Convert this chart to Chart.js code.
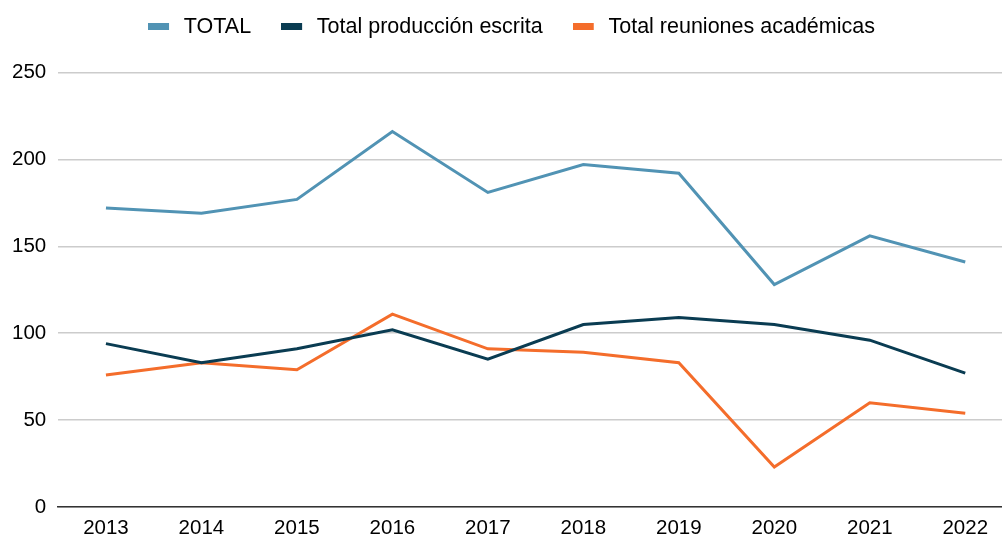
<!DOCTYPE html>
<html lang="es">
<head>
  <meta charset="utf-8">
  <title>Producción académica</title>
  <script src="https://cdn.jsdelivr.net/npm/chart.js@4.4.1/dist/chart.umd.min.js"></script>
  <style>
    html, body { margin: 0; padding: 0; background: #fff; overflow: hidden; }
    #wrap { width: 1013px; height: 540px; }
  </style>
</head>
<body>
  <div id="wrap">
    <canvas id="chart-line"></canvas>
  </div>
  <script>
    // datos
    var years = ['2013', '2014', '2015', '2016', '2017', '2018', '2019', '2020', '2021', '2022'];
    var total = [172, 169, 177, 216, 181, 197, 192, 128, 156, 141];
    var produccionEscrita = [94, 83, 91, 102, 85, 105, 109, 105, 96, 77];
    var reunionesAcademicas = [76, 83, 79, 111, 91, 89, 83, 23, 60, 54];
    var yTicks = [0, 50, 100, 150, 200, 250];

    var colors = ['#5193b4', '#0a3c52', '#f46d2b'];
    var fontFamily = '"Liberation Sans", Arial, sans-serif';

    // icono de leyenda: rectángulo 21x7 con hueco a la derecha
    function legendIcon(color) {
      var c = document.createElement('canvas');
      c.width = 25;
      c.height = 7;
      var ctx = c.getContext('2d');
      ctx.fillStyle = color;
      ctx.fillRect(0, 0, 21, 7);
      return c;
    }

    // sube la leyenda sin mover el área del gráfico
    var legendShift = {
      id: 'legendShift',
      afterLayout: function (chart) {
        var lg = chart.legend;
        lg.top -= 25;
        lg.bottom -= 25;
        lg.left += 5;
        lg.right += 5;
      }
    };

    new Chart(document.getElementById('chart-line'), {
      type: 'line',
      data: {
        labels: years,
        datasets: [{
          label: 'TOTAL',
          data: total,
          borderColor: colors[0],
          backgroundColor: colors[0],
          pointStyle: legendIcon(colors[0])
        }, {
          label: 'Total producción escrita',
          data: produccionEscrita,
          borderColor: colors[1],
          backgroundColor: colors[1],
          pointStyle: legendIcon(colors[1])
        }, {
          label: 'Total reuniones académicas',
          data: reunionesAcademicas,
          borderColor: colors[2],
          backgroundColor: colors[2],
          pointStyle: legendIcon(colors[2])
        }]
      },
      plugins: [legendShift],
      options: {
        responsive: true,
        maintainAspectRatio: false,
        animation: false,
        elements: {
          line: { borderWidth: 3, tension: 0 },
          point: { radius: 0, hoverRadius: 0 }
        },
        layout: {
          padding: { left: 0, right: 0, top: 11, bottom: 0 }
        },
        plugins: {
          legend: {
            position: 'top',
            labels: {
              usePointStyle: true,
              pointStyleWidth: 25,
              boxHeight: 7,
              padding: 30,
              color: '#000',
              font: { family: fontFamily, size: 21.5 }
            }
          },
          tooltip: { enabled: false }
        },
        scales: {
          x: {
            offset: true,
            grid: { display: false, drawTicks: false },
            border: { color: '#333', width: 1.5 },
            afterFit: function (axis) { axis.height = 33; },
            ticks: {
              color: '#000',
              padding: 9,
              font: { family: fontFamily, size: 20.5 }
            }
          },
          y: {
            min: yTicks[0],
            max: yTicks[yTicks.length - 1],
            afterBuildTicks: function (axis) {
              axis.ticks = yTicks.map(function (v) { return { value: v }; });
            },
            grid: { color: '#cccccc', lineWidth: 1.5, drawTicks: false },
            border: { display: false },
            ticks: {
              color: '#000',
              padding: 12,
              font: { family: fontFamily, size: 20.5 }
            }
          }
        }
      }
    });
  </script>
</body>
</html>
